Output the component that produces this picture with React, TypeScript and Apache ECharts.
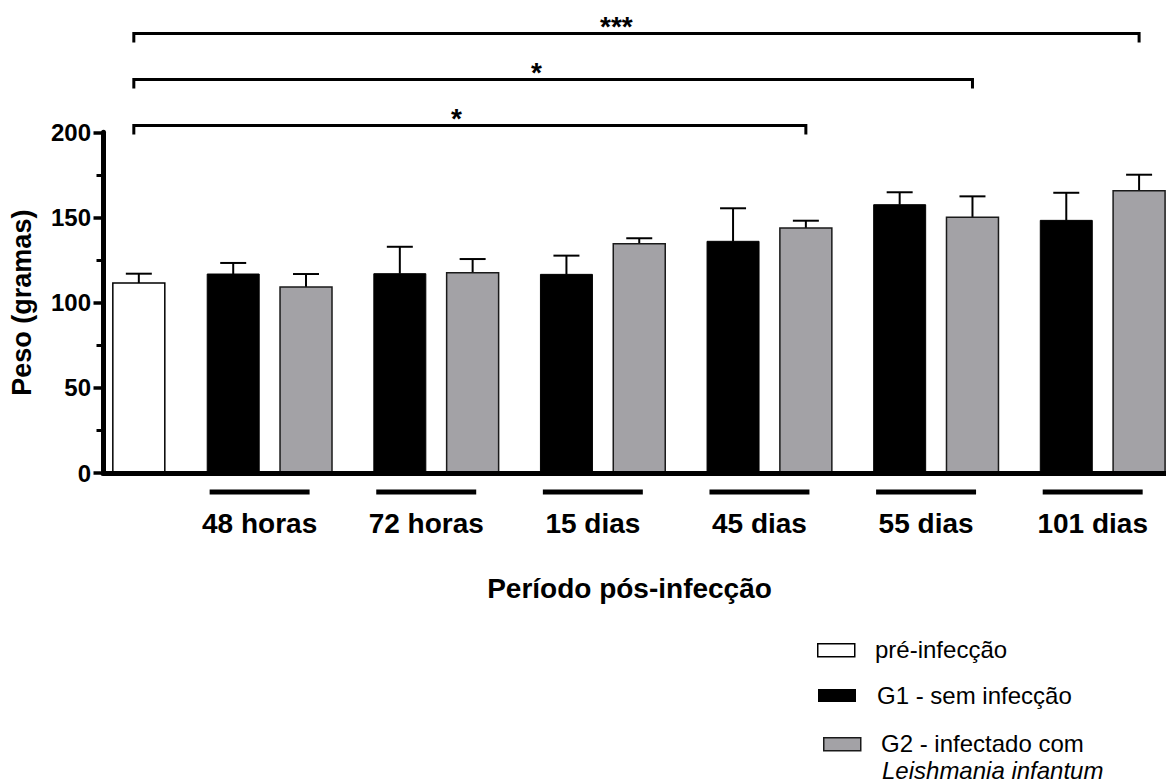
import { useEffect, useRef } from 'react';
import * as echarts from 'echarts';

// Body weight (g) per group and post-infection period: mean and SEM
const periods = ['48 horas', '72 horas', '15 dias', '45 dias', '55 dias', '101 dias'];
const preMean = 111.5;
const preSem = 5.5;
const g1Mean = [116.8, 117.0, 116.6, 136.0, 157.5, 148.3];
const g1Sem = [6.5, 15.8, 11.0, 19.4, 7.3, 16.2];
const g2Mean = [109.2, 117.6, 134.6, 143.8, 150.1, 165.7];
const g2Sem = [7.6, 8.0, 3.2, 4.3, 12.3, 9.4];
const yTicks = [0, 50, 100, 150, 200];

// Significance brackets: pre-infection vs G2 at these periods
const comparisonPeriods = ['45 dias', '55 dias', '101 dias'];
const comparisonMarks = ['*', '*', '***'];

const groupNames = ['pré-infecção', 'G1 - sem infecção', 'G2 - infectado com'];
const speciesName = 'Leishmania infantum';
const yTitle = 'Peso (gramas)';
const xTitle = 'Período pós-infecção';

// Layout (x axis units: one unit per period)
const FONT = '"Liberation Sans", Arial, Helvetica, sans-serif';
const X_MAX = 6.38;
const PRE_X = 0.215;
const PAIR_OFFSET = 0.2185;
const BAR_W = 0.312;
const CAP_W = 0.156;
const LABEL_SHIFT = -0.06;
const UNDERLINE_W = 0.6;
const BRACKET_BASE = 204;
const BRACKET_STEP = 27;
const GRAY = '#a3a2a6';

function barRenderer(fill: string, stroke: string, lineWidth: number) {
  return (_params: any, api: any) => {
    const x = api.value(0);
    const m = api.value(1);
    const e = api.value(2);
    const top = api.coord([x, m]);
    const base = api.coord([x, 0]);
    const err = api.coord([x, m + e]);
    const w = api.size([BAR_W, 0])[0];
    const cap = api.size([CAP_W, 0])[0];
    const cx = top[0];
    return {
      type: 'group',
      children: [
        {
          type: 'line',
          shape: { x1: cx, y1: top[1], x2: cx, y2: err[1] },
          style: { stroke: '#000', lineWidth: 2 },
        },
        {
          type: 'line',
          shape: { x1: cx - cap / 2, y1: err[1], x2: cx + cap / 2, y2: err[1] },
          style: { stroke: '#000', lineWidth: 2 },
        },
        {
          type: 'rect',
          shape: { x: cx - w / 2, y: top[1], width: w, height: base[1] - top[1] },
          style: { fill, stroke, lineWidth },
        },
      ],
    };
  };
}

export default function App() {
  const ref = useRef<HTMLDivElement>(null);

  useEffect(() => {
    if (!ref.current) return;
    const chart = echarts.init(ref.current, null, { renderer: 'svg' });

    const preData = [[PRE_X, preMean, preSem]];
    const g1Data = g1Mean.map((m, i) => [i + 1 - PAIR_OFFSET, m, g1Sem[i]]);
    const g2Data = g2Mean.map((m, i) => [i + 1 + PAIR_OFFSET, m, g2Sem[i]]);
    const periodData = periods.map((_, i) => [i + 1, 0]);
    const bracketData = comparisonPeriods.map((p, i) => [
      periods.indexOf(p) + 1 + PAIR_OFFSET,
      BRACKET_BASE + i * BRACKET_STEP,
    ]);

    const legendTextStyle = { fontSize: 24, fontFamily: FONT, fill: '#000' };

    chart.setOption({
      animation: false,
      backgroundColor: '#fff',
      grid: { left: 102.6, right: 0, top: 132.3, bottom: 309, containLabel: false },
      xAxis: {
        type: 'value',
        min: 0,
        max: X_MAX,
        z: 5,
        axisLine: { show: true, onZero: false, lineStyle: { color: '#000', width: 5 } },
        axisTick: { show: false },
        axisLabel: { show: false },
        splitLine: { show: false },
        name: xTitle,
        nameLocation: 'middle',
        nameGap: 101,
        nameTextStyle: {
          fontSize: 28,
          fontWeight: 'bold',
          fontFamily: FONT,
          color: '#000',
          padding: [0, 10, 0, 0],
        },
      },
      yAxis: {
        type: 'value',
        min: yTicks[0],
        max: yTicks[yTicks.length - 1],
        interval: yTicks[1] - yTicks[0],
        z: 5,
        axisLine: { show: true, lineStyle: { color: '#000', width: 5 } },
        axisTick: { show: true, length: 9.5, lineStyle: { color: '#000', width: 3.5 } },
        minorTick: { show: true, splitNumber: 2, length: 6.5, lineStyle: { color: '#000', width: 3 } },
        splitLine: { show: false },
        minorSplitLine: { show: false },
        axisLabel: {
          margin: 12,
          fontSize: 24,
          fontWeight: 'bold',
          fontFamily: FONT,
          color: '#000',
        },
        name: yTitle,
        nameLocation: 'middle',
        nameGap: 68,
        nameTextStyle: { fontSize: 27, fontWeight: 'bold', fontFamily: FONT, color: '#000' },
      },
      series: [
        {
          name: groupNames[0],
          type: 'custom',
          clip: false,
          encode: { x: 0, y: 1 },
          data: preData,
          renderItem: barRenderer('#fff', '#000', 1.5),
        },
        {
          name: groupNames[1],
          type: 'custom',
          clip: false,
          encode: { x: 0, y: 1 },
          data: g1Data,
          renderItem: barRenderer('#000', '#000', 1),
        },
        {
          name: groupNames[2],
          type: 'custom',
          clip: false,
          encode: { x: 0, y: 1 },
          data: g2Data,
          renderItem: barRenderer(GRAY, '#1a1a1a', 1.5),
        },
        {
          // period underline and label beneath each pair of bars
          type: 'custom',
          clip: false,
          silent: true,
          encode: { x: 0, y: 1 },
          data: periodData,
          renderItem: (params: any, api: any) => {
            const p = api.coord([api.value(0) + LABEL_SHIFT, 0]);
            const half = api.size([UNDERLINE_W, 0])[0] / 2;
            return {
              type: 'group',
              children: [
                {
                  type: 'line',
                  shape: { x1: p[0] - half, y1: p[1] + 19, x2: p[0] + half, y2: p[1] + 19 },
                  style: { stroke: '#000', lineWidth: 5 },
                },
                {
                  type: 'text',
                  x: p[0],
                  y: p[1] + 50,
                  style: {
                    text: periods[params.dataIndex],
                    fontSize: 28,
                    fontWeight: 'bold',
                    fontFamily: FONT,
                    fill: '#000',
                    align: 'center',
                    verticalAlign: 'middle',
                  },
                },
              ],
            };
          },
        },
        {
          // significance brackets
          type: 'custom',
          clip: false,
          silent: true,
          encode: { x: 0, y: 1 },
          data: bracketData,
          renderItem: (params: any, api: any) => {
            const yv = api.value(1);
            const l = api.coord([PRE_X - 0.03, yv]);
            const r = api.coord([api.value(0), yv]);
            const y = l[1];
            return {
              type: 'group',
              children: [
                {
                  type: 'polyline',
                  shape: { points: [[l[0], y + 9], [l[0], y], [r[0], y], [r[0], y + 9]] },
                  style: { stroke: '#000', lineWidth: 3, fill: 'none', lineJoin: 'miter' },
                },
                {
                  type: 'text',
                  x: l[0] + 0.48 * (r[0] - l[0]),
                  y: y - 7,
                  style: {
                    text: comparisonMarks[params.dataIndex],
                    fontSize: 28,
                    fontWeight: 'bold',
                    fontFamily: FONT,
                    fill: '#000',
                    align: 'center',
                    verticalAlign: 'middle',
                  },
                },
              ],
            };
          },
        },
      ],
      graphic: [
        {
          type: 'rect',
          left: 817,
          top: 643,
          shape: { width: 37, height: 13 },
          style: { fill: '#fff', stroke: '#000', lineWidth: 1.5 },
        },
        {
          type: 'text',
          left: 875,
          top: 637,
          style: { ...legendTextStyle, text: groupNames[0] },
        },
        {
          type: 'rect',
          left: 818,
          top: 689,
          shape: { width: 38, height: 13 },
          style: { fill: '#000' },
        },
        {
          type: 'text',
          left: 877,
          top: 683,
          style: { ...legendTextStyle, text: groupNames[1] },
        },
        {
          type: 'rect',
          left: 823,
          top: 737,
          shape: { width: 37, height: 13 },
          style: { fill: GRAY, stroke: '#1a1a1a', lineWidth: 1.5 },
        },
        {
          type: 'text',
          left: 881,
          top: 731,
          style: { ...legendTextStyle, text: groupNames[2] },
        },
        {
          type: 'text',
          left: 882,
          top: 758,
          style: { ...legendTextStyle, fontStyle: 'italic', text: speciesName },
        },
      ],
    });

    return () => chart.dispose();
  }, []);

  return (
    <div
      ref={ref}
      style={{ position: 'absolute', left: 0, top: 0, width: 1166, height: 782, background: '#fff' }}
    />
  );
}
